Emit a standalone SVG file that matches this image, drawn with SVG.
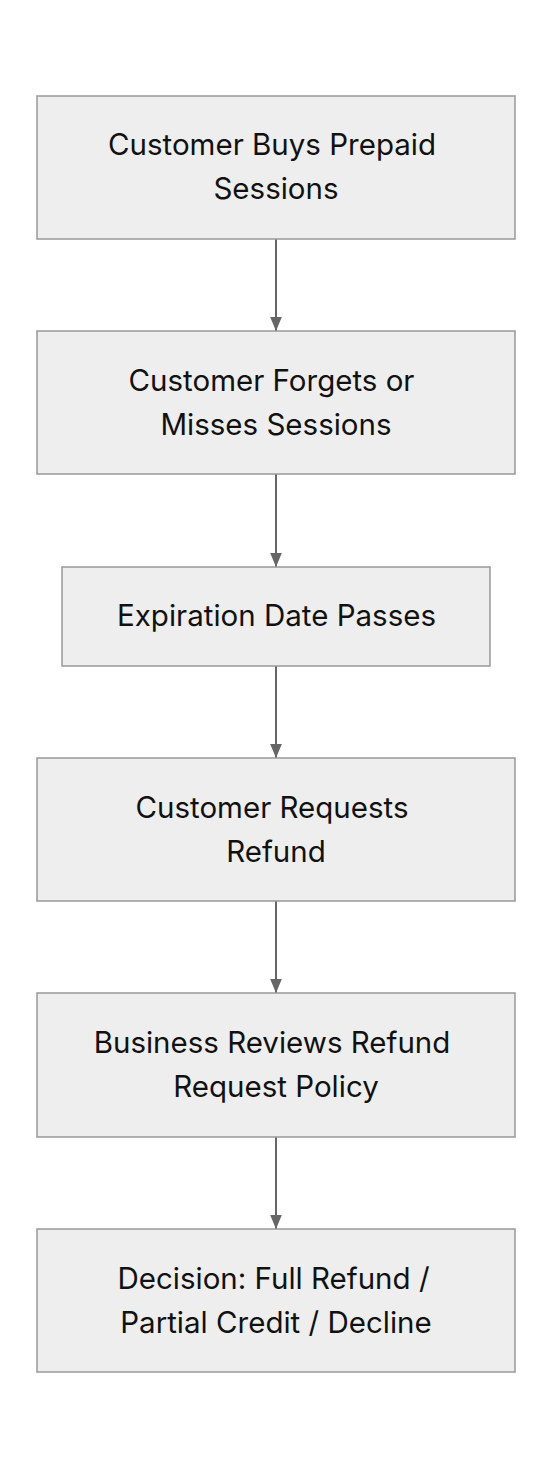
<svg xmlns="http://www.w3.org/2000/svg" width="552" height="1468" viewBox="0 0 552 1468">
<defs>
<marker id="ah" markerWidth="14" markerHeight="14" refX="12" refY="5" orient="auto" markerUnits="userSpaceOnUse" viewBox="0 0 12 10">
<path d="M0,0 L12,5 L0,10 Z" fill="#666666"/>
</marker>
<style>
.box{fill:#eeeeee;stroke:#999999;stroke-width:1.5}
.t{font-family:Inter,"Liberation Sans",sans-serif;font-size:29.5px;fill:#111111;text-anchor:middle}
.c{stroke:#666666;stroke-width:2;fill:none;marker-end:url(#ah)}
</style>
</defs>
<rect width="552" height="1468" fill="#ffffff"/>
<g id="connectors">
<line class="c" x1="276" y1="239" x2="276" y2="331"/>
<line class="c" x1="276" y1="474" x2="276" y2="567"/>
<line class="c" x1="276" y1="666" x2="276" y2="758"/>
<line class="c" x1="276" y1="901" x2="276" y2="993"/>
<line class="c" x1="276" y1="1137" x2="276" y2="1229"/>
</g>
<g id="n1"><rect class="box" x="37" y="96" width="478" height="143"/>
<text class="t" x="272" y="155">Customer Buys Prepaid</text><text class="t" x="276" y="199">Sessions</text></g>
<g id="n2"><rect class="box" x="37" y="331" width="478" height="143"/>
<text class="t" x="271.5" y="391">Customer Forgets or</text><text class="t" x="276" y="435">Misses Sessions</text></g>
<g id="n3"><rect class="box" x="62" y="567" width="428" height="99"/>
<text class="t" x="276.5" y="626">Expiration Date Passes</text></g>
<g id="n4"><rect class="box" x="37" y="758" width="478" height="143"/>
<text class="t" x="272" y="818">Customer Requests</text><text class="t" x="276" y="862">Refund</text></g>
<g id="n5"><rect class="box" x="37" y="993" width="478" height="144"/>
<text class="t" x="272" y="1053">Business Reviews Refund</text><text class="t" x="276" y="1097">Request Policy</text></g>
<g id="n6"><rect class="box" x="37" y="1229" width="478" height="143"/>
<text class="t" x="273.5" y="1289">Decision: Full Refund /</text><text class="t" x="276" y="1333">Partial Credit / Decline</text></g>
</svg>
